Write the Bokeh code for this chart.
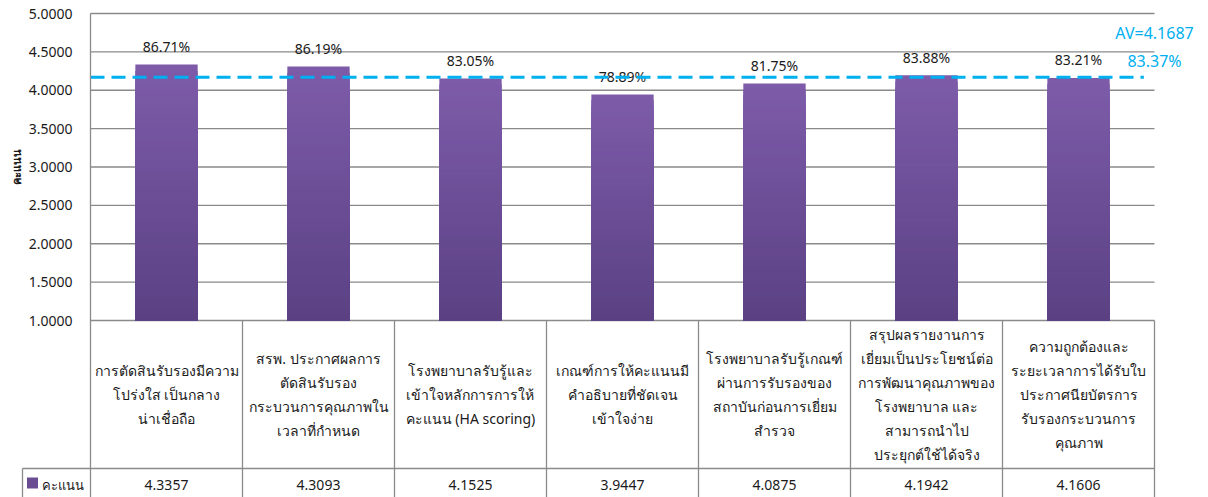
import math

from bokeh.core.properties import value
from bokeh.embed import file_html
from bokeh.models import FixedTicker, NumeralTickFormatter, Range1d
from bokeh.plotting import figure
from bokeh.resources import INLINE

# ---- data -------------------------------------------------------------
categories = [
    "การตัดสินรับรองมีความ\nโปร่งใส เป็นกลาง\nน่าเชื่อถือ",
    "สรพ. ประกาศผลการ\nตัดสินรับรอง\nกระบวนการคุณภาพใน\nเวลาที่กำหนด",
    "โรงพยาบาลรับรู้และ\nเข้าใจหลักการการให้\nคะแนน (HA scoring)",
    "เกณฑ์การให้คะแนนมี\nคำอธิบายที่ชัดเจน\nเข้าใจง่าย",
    "โรงพยาบาลรับรู้เกณฑ์\nผ่านการรับรองของ\nสถาบันก่อนการเยี่ยม\nสำรวจ",
    "สรุปผลรายงานการ\nเยี่ยมเป็นประโยชน์ต่อ\nการพัฒนาคุณภาพของ\nโรงพยาบาล และ\nสามารถนำไป\nประยุกต์ใช้ได้จริง",
    "ความถูกต้องและ\nระยะเวลาการได้รับใบ\nประกาศนียบัตรการ\nรับรองกระบวนการ\nคุณภาพ",
]
scores = [4.3357, 4.3093, 4.1525, 3.9447, 4.0875, 4.1942, 4.1606]
percent_labels = ["86.71%", "86.19%", "83.05%", "78.89%", "81.75%", "83.88%", "83.21%"]
average = 4.1687
average_pct = "83.37%"
y_ticks = [1.0, 1.5, 2.0, 2.5, 3.0, 3.5, 4.0, 4.5, 5.0]
series_name = "คะแนน"
axis_title = "คะแนน"

# ---- layout & style ---------------------------------------------------
FONT = value("'Noto Sans', 'DejaVu Sans', sans-serif")
W, H = 1208, 497
PLOT_LEFT, PLOT_RIGHT = 90, 1154      # plot area / table columns
PLOT_TOP, PLOT_BOTTOM = 13, 320       # value 5.0 and 1.0
ROW_SPLIT = 468                       # category row / value row border
LEGEND_LEFT = 22
GRID = "#8A8A8A"
TEXT = "#1A1A1A"
CYAN = "#00B0F0"
BAR_TOP = (0x7D, 0x5B, 0xA9)
BAR_BOTTOM = (0x5B, 0x41, 0x84)

n = len(categories)
idx = list(range(n))
unit = (PLOT_RIGHT - PLOT_LEFT) / n
y_min, y_max = y_ticks[0], y_ticks[-1]
px_per_y = (PLOT_BOTTOM - PLOT_TOP) / (y_max - y_min)


def x_at(px):
    return -0.5 + (px - PLOT_LEFT) / unit


def y_at(px):
    return y_max - (px - PLOT_TOP) / px_per_y


p = figure(
    width=W, height=H,
    x_range=Range1d(x_at(0), x_at(W)), y_range=Range1d(y_at(H), y_at(0)),
    output_backend="svg", toolbar_location=None, min_border=0,
    min_border_left=0, min_border_right=0, min_border_top=0, min_border_bottom=0,
    x_axis_location=None,
)
p.outline_line_color = None
p.xgrid.visible = False
p.ygrid.visible = False
p.background_fill_color = "white"
p.border_fill_color = "white"

# value axis drawn on the left edge of the plot area
ax = p.yaxis[0]
ax.fixed_location = -0.5
ax.bounds = (y_at(H), y_max)
ax.ticker = FixedTicker(ticks=y_ticks)
ax.formatter = NumeralTickFormatter(format="0.0000")
ax.major_tick_out = 0
ax.major_tick_in = 0
ax.minor_tick_out = 0
ax.minor_tick_in = 0
ax.axis_line_color = GRID
ax.axis_line_width = 1.3
ax.major_label_standoff = 18
ax.major_label_text_font = "Noto Sans"
ax.major_label_text_font_size = "14px"
ax.major_label_text_color = TEXT

# horizontal gridlines across the plot area only
p.segment(x0=[-0.5] * len(y_ticks), x1=[n - 0.5] * len(y_ticks),
          y0=y_ticks, y1=y_ticks, line_color=GRID, line_width=1.3)

# bars with a vertical gradient: stacked, progressively shorter layers
layers = 40
for k in range(layers):
    frac = (layers - k) / layers
    t = k / (layers - 1)
    rgb = tuple(round(a + (b - a) * t) for a, b in zip(BAR_TOP, BAR_BOTTOM))
    colour = "#%02x%02x%02x" % rgb
    tops = [y_min + (s - y_min) * frac for s in scores]
    p.vbar(x=idx, width=0.41, bottom=y_min, top=tops,
           fill_color=colour, line_color=None)

# percentage labels over the bars
p.text(x=idx, y=scores, text=percent_labels, text_align="center",
       text_baseline="middle", y_offset=-18, text_font=FONT,
       text_font_size="14px", text_color=TEXT)

# average line and its labels
p.line(x=[-0.5, n - 0.57], y=[average, average], line_color=CYAN,
       line_width=3, line_dash="14 7")
p.text(x=[n - 0.5, n - 0.5], y=[average, average],
       text=[f"AV={average:.4f}", average_pct], text_align="center",
       text_baseline="middle", y_offset=[-44, -16], text_font=FONT,
       text_font_size="16px", text_color=CYAN)

# axis title, centred on the value scale
p.text(x=[x_at(16)], y=[(y_min + y_max) / 2], text=[axis_title],
       angle=math.pi / 2, text_align="center", text_baseline="middle",
       text_font=FONT, text_font_size="11px", text_font_style="bold",
       text_color=TEXT)

# ---- data table under the plot ----------------------------------------
y_split = y_at(ROW_SPLIT)
y_bottom = y_at(H)
bounds = [i + 0.5 for i in idx]

p.segment(x0=bounds, x1=bounds, y0=[y_min] * n, y1=[y_bottom] * n,
          line_color=GRID, line_width=1.3)
p.segment(x0=[x_at(LEGEND_LEFT)], x1=[n - 0.5], y0=[y_split], y1=[y_split],
          line_color=GRID, line_width=1.3)
p.segment(x0=[x_at(LEGEND_LEFT)], x1=[x_at(LEGEND_LEFT)], y0=[y_split],
          y1=[y_bottom], line_color=GRID, line_width=1.3)

# category row
p.text(x=idx, y=[(y_min + y_split) / 2] * n, text=categories,
       text_align="center", text_baseline="middle", text_font=FONT,
       text_font_size="14px", text_color=TEXT, text_line_height=1.26)

# value row with its legend key
y_val = (y_split + y_bottom) / 2
p.scatter(x=[x_at(32)], y=[y_val], marker="square", size=11,
          fill_color="#6A4C93", line_color=None)
p.text(x=[x_at(41)], y=[y_val], y_offset=2, text=[series_name],
       text_align="left", text_baseline="middle", text_font=FONT,
       text_font_size="13px", text_color=TEXT)
p.text(x=idx, y=[y_val] * n, y_offset=2, text=[f"{s:.4f}" for s in scores],
       text_align="center", text_baseline="middle", text_font=FONT,
       text_font_size="14px", text_color=TEXT)

open("out.html", "w").write(file_html(p, INLINE))
